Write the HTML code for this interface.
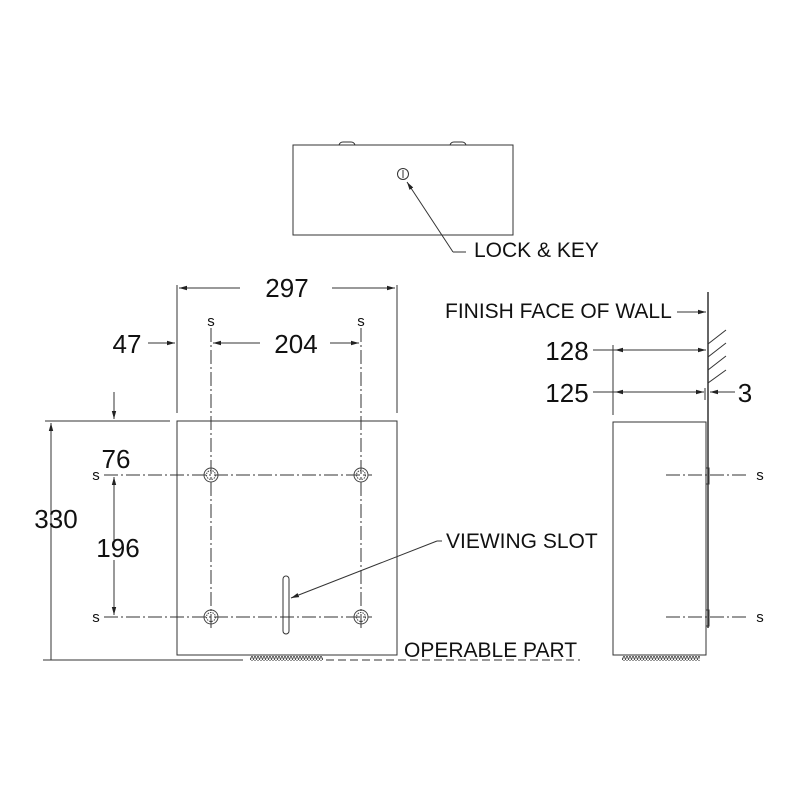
<!DOCTYPE html>
<html><head><style>body{margin:0;background:#fff}svg{display:block}text{font-family:"Liberation Sans",sans-serif;fill:#111}</style></head>
<body>
<svg width="800" height="800" viewBox="0 0 800 800" xmlns="http://www.w3.org/2000/svg">
<defs>
<marker id="a" markerWidth="8" markerHeight="6" refX="8" refY="3" orient="auto" markerUnits="userSpaceOnUse"><path d="M0,0.8 L8,3 L0,5.2 Z" fill="#222"/></marker>
<pattern id="zig" width="3" height="5" patternUnits="userSpaceOnUse"><path d="M0,0 L1.5,5 L3,0" stroke="#444" fill="none" stroke-width="0.8"/></pattern>
</defs>
<g stroke="#333" fill="none" stroke-width="1">
<rect x="293" y="145" width="220" height="90"/>
<path d="M339,145 q1,-3 4,-3 h8 q3,0 4,3 M450,145 q1,-3 4,-3 h8 q3,0 4,3"/>
<circle cx="403" cy="174" r="5.5"/>
<line x1="403" y1="170" x2="403" y2="178"/>
<path d="M453,252 L407,182" marker-end="url(#a)"/>
<line x1="453" y1="252" x2="466" y2="252"/>

<rect x="177" y="421" width="220" height="234"/>
<line x1="177" y1="285" x2="177" y2="413"/>
<line x1="397" y1="285" x2="397" y2="413"/>
<line x1="240" y1="288" x2="179" y2="288" marker-end="url(#a)"/>
<line x1="332" y1="288" x2="395" y2="288" marker-end="url(#a)"/>
<line x1="148" y1="343" x2="175" y2="343" marker-end="url(#a)"/>
<line x1="260" y1="343" x2="213" y2="343" marker-end="url(#a)"/>
<line x1="330" y1="343" x2="359" y2="343" marker-end="url(#a)"/>
<g stroke-dasharray="14,3,2,3">
<line x1="211" y1="328" x2="211" y2="630"/>
<line x1="361" y1="328" x2="361" y2="630"/>
<line x1="104" y1="475" x2="372" y2="475"/>
<line x1="104" y1="617" x2="372" y2="617"/>
</g>
<g stroke="#444">
<circle cx="211" cy="475" r="7"/><circle cx="211" cy="475" r="4.5" stroke-dasharray="1.5,1"/>
<circle cx="361" cy="475" r="7"/><circle cx="361" cy="475" r="4.5" stroke-dasharray="1.5,1"/>
<circle cx="211" cy="617" r="7"/><circle cx="211" cy="617" r="4.5" stroke-dasharray="1.5,1"/>
<circle cx="361" cy="617" r="7"/><circle cx="361" cy="617" r="4.5" stroke-dasharray="1.5,1"/>
</g>
<line x1="45" y1="421" x2="170" y2="421"/>
<line x1="114" y1="392" x2="114" y2="419" marker-end="url(#a)"/>
<line x1="51" y1="660" x2="51" y2="423" marker-end="url(#a)"/>
<line x1="114" y1="540" x2="114" y2="477" marker-end="url(#a)"/>
<line x1="114" y1="560" x2="114" y2="615" marker-end="url(#a)"/>
<line x1="43" y1="660" x2="243" y2="660"/>
<line x1="326" y1="660" x2="580" y2="660" stroke-dasharray="8,4"/>
<rect x="283" y="576" width="6" height="58" rx="3"/>
<line x1="437" y1="541" x2="291" y2="598" marker-end="url(#a)"/>
<line x1="437" y1="541" x2="442" y2="541"/>

<rect x="613" y="422" width="93" height="233"/>
<line x1="708" y1="292" x2="708" y2="628" stroke-width="1.5"/>
<path d="M708,344 L726,330 M708,357 L726,343 M708,370 L726,356 M708,383 L726,370"/>
<line x1="677" y1="312" x2="706" y2="312" marker-end="url(#a)"/>
<line x1="613" y1="345" x2="613" y2="415"/>
<line x1="593" y1="350" x2="706" y2="350" marker-end="url(#a)"/>
<line x1="650" y1="350" x2="615" y2="350" marker-end="url(#a)"/>
<line x1="593" y1="392" x2="704" y2="392" marker-end="url(#a)"/>
<line x1="650" y1="392" x2="615" y2="392" marker-end="url(#a)"/>
<line x1="705" y1="388" x2="705" y2="400"/>
<line x1="735" y1="392" x2="710" y2="392" marker-end="url(#a)"/>
<g stroke-dasharray="14,3,2,3">
<line x1="666" y1="475" x2="748" y2="475"/>
<line x1="666" y1="617" x2="748" y2="617"/>
</g>
<path d="M706,468 h3 v16 h-3 M706,610 h3 v16 h-3"/>
</g>
<rect x="250" y="656" width="73" height="5" fill="url(#zig)"/>
<rect x="622" y="656" width="78" height="5" fill="url(#zig)"/>

<g font-size="21">
<text x="474" y="257">LOCK &amp; KEY</text>
<text x="446" y="548">VIEWING SLOT</text>
<text x="404" y="657">OPERABLE PART</text>
<text x="445" y="318">FINISH FACE OF WALL</text>
</g>
<g font-size="26">
<text x="287" y="297" text-anchor="middle">297</text>
<text x="296" y="353" text-anchor="middle">204</text>
<text x="127" y="353" text-anchor="middle">47</text>
<text x="116" y="468" text-anchor="middle">76</text>
<text x="118" y="557" text-anchor="middle">196</text>
<text x="56" y="528" text-anchor="middle">330</text>
<text x="567" y="360" text-anchor="middle">128</text>
<text x="567" y="402" text-anchor="middle">125</text>
<text x="745" y="402" text-anchor="middle">3</text>
</g>
<g font-size="15">
<text x="211" y="326" text-anchor="middle">s</text>
<text x="361" y="326" text-anchor="middle">s</text>
<text x="96" y="480" text-anchor="middle">s</text>
<text x="96" y="622" text-anchor="middle">s</text>
<text x="760" y="480" text-anchor="middle">s</text>
<text x="760" y="622" text-anchor="middle">s</text>
</g>
</svg>
</body></html>
